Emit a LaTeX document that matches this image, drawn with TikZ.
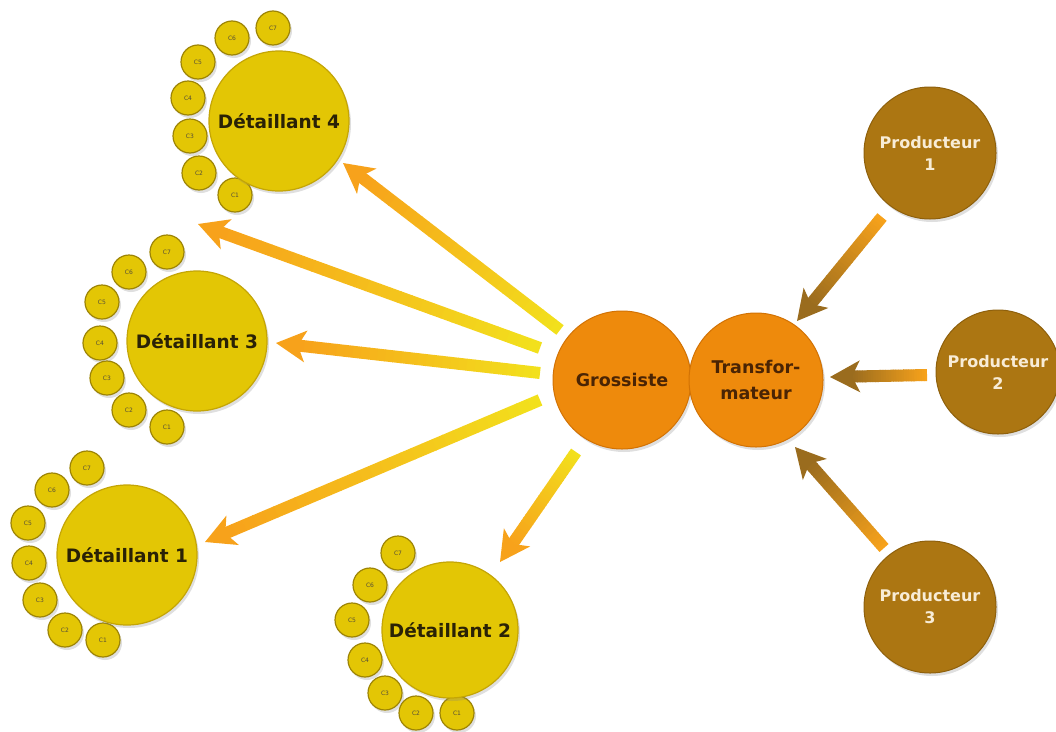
\documentclass[tikz,border=0pt]{standalone}
\usepackage{fontspec}
\setmainfont{DejaVu Sans}
\usetikzlibrary{shadows,calc}
\definecolor{dyel}{HTML}{E3C605}
\definecolor{dyelb}{HTML}{C4A506}
\definecolor{gor}{HTML}{EE8A0C}
\definecolor{gorb}{HTML}{D27204}
\definecolor{pbr}{HTML}{AC7612}
\definecolor{pbrb}{HTML}{8E600C}
\definecolor{ayel}{HTML}{F2E01C}
\definecolor{aor}{HTML}{F7A21B}
\definecolor{abr}{HTML}{9A6C1E}
\definecolor{dtxt}{HTML}{2A2206}
\definecolor{gtxt}{HTML}{4A2404}
\definecolor{ptxt}{HTML}{F8ECD6}
\tikzset{
  shd/.style={drop shadow={opacity=0.25,shadow xshift=2pt,shadow yshift=-3pt}},
  detail/.style={circle,minimum size=140pt,inner sep=0pt,fill=dyel,draw=dyelb,line width=1.2pt,shd,
     text=dtxt,font=\fontsize{18.5}{21}\selectfont\bfseries},
  client/.style={circle,minimum size=34pt,inner sep=0pt,fill=dyel,draw=dyelb!80!black,line width=1.2pt,shd,
     text=dtxt!80,font=\fontsize{6}{7}\selectfont},
  mid/.style={circle,minimum size=138pt,inner sep=0pt,fill=gor,draw=gorb,line width=1pt,shd,
     text=gtxt,font=\fontsize{17.5}{26}\selectfont\bfseries,align=center},
  prod/.style={circle,minimum size=132pt,inner sep=0pt,fill=pbr,draw=pbrb,line width=1pt,shd,
     text=ptxt,font=\fontsize{16}{22}\selectfont\bfseries,align=center},
}
\newcommand\garrow[4]{%
  \pgfpointdiff{\pgfpointanchor{#1}{center}}{\pgfpointanchor{#2}{center}}%
  \pgfgetlastxy{\gdx}{\gdy}%
  \pgfmathsetmacro\gang{atan2(\gdy,\gdx)}%
  \pgfmathsetmacro\glen{veclen(\gdx,\gdy)}%
  \pgfmathsetmacro\gseg{(\glen-20)/30}%
  \begin{scope}[shift={(#1)},rotate=\gang]
    \foreach \i in {0,...,29}{%
      \pgfmathtruncatemacro\pc{100-\i*100/29}%
      \fill[#3!\pc!#4] (\i*\gseg,-6) rectangle (\i*\gseg+\gseg+0.6,6);}
    \fill[#4] (\glen-30,-16) -- (\glen,0) -- (\glen-30,16) -- (\glen-22,0) -- cycle;
  \end{scope}}
\begin{document}
\begin{tikzpicture}[x=1pt,y=-1pt]
\useasboundingbox (0,0) rectangle (1056,731);
% Detaillant 4
\node[client] (d4c7) at (273,28) {C7};
\node[client] (d4c6) at (232,38) {C6};
\node[client] (d4c5) at (198,62) {C5};
\node[client] (d4c4) at (188,98) {C4};
\node[client] (d4c3) at (190,136) {C3};
\node[client] (d4c2) at (199,173) {C2};
\node[client] (d4c1) at (235,195) {C1};
\node[detail] (d4) at (279,121) {Détaillant 4};
% Detaillant 3
\node[client] (d3c7) at (167,252) {C7};
\node[client] (d3c6) at (129,272) {C6};
\node[client] (d3c5) at (102,302) {C5};
\node[client] (d3c4) at (100,343) {C4};
\node[client] (d3c3) at (107,378) {C3};
\node[client] (d3c2) at (129,410) {C2};
\node[client] (d3c1) at (167,427) {C1};
\node[detail] (d3) at (197,341) {Détaillant 3};
% Detaillant 1
\node[client] (d1c7) at (87,468) {C7};
\node[client] (d1c6) at (52,490) {C6};
\node[client] (d1c5) at (28,523) {C5};
\node[client] (d1c4) at (29,563) {C4};
\node[client] (d1c3) at (40,600) {C3};
\node[client] (d1c2) at (65,630) {C2};
\node[client] (d1c1) at (103,640) {C1};
\node[detail] (d1) at (127,555) {Détaillant 1};
% Detaillant 2
\node[client] (d2c7) at (398,553) {C7};
\node[client] (d2c6) at (370,585) {C6};
\node[client] (d2c5) at (352,620) {C5};
\node[client] (d2c4) at (365,660) {C4};
\node[client] (d2c3) at (385,693) {C3};
\node[client] (d2c2) at (416,713) {C2};
\node[client] (d2c1) at (457,713) {C1};
\node[detail,minimum size=136pt] (d2) at (450,630) {Détaillant 2};
% centre
\node[mid] (g) at (622,380) {Grossiste};
\node[mid,minimum size=134pt] (t) at (756,380) {Transfor-\\mateur};
% producers
\node[prod] (p1) at (930,153) {Producteur\\1};
\node[prod,minimum size=124pt] (p2) at (998,372) {Producteur\\2};
\node[prod] (p3) at (930,607) {Producteur\\3};
% arrow ends
\coordinate (g1) at (560,330); \coordinate (e1) at (343,163);
\coordinate (g2) at (540,348); \coordinate (e2) at (198,224);
\coordinate (g3) at (540,373); \coordinate (e3) at (276,343);
\coordinate (g4) at (540,400); \coordinate (e4) at (205,542);
\coordinate (g5) at (576,452); \coordinate (e5) at (500,562);
\coordinate (q1) at (882,217); \coordinate (f1) at (797,321);
\coordinate (q2) at (927,375); \coordinate (f2) at (830,377);
\coordinate (q3) at (884,548); \coordinate (f3) at (795,447);
\garrow{g1}{e1}{ayel}{aor}
\garrow{g2}{e2}{ayel}{aor}
\garrow{g3}{e3}{ayel}{aor}
\garrow{g4}{e4}{ayel}{aor}
\garrow{g5}{e5}{ayel}{aor}
\garrow{q1}{f1}{aor}{abr}
\garrow{q2}{f2}{aor}{abr}
\garrow{q3}{f3}{aor}{abr}
\end{tikzpicture}
\end{document}
